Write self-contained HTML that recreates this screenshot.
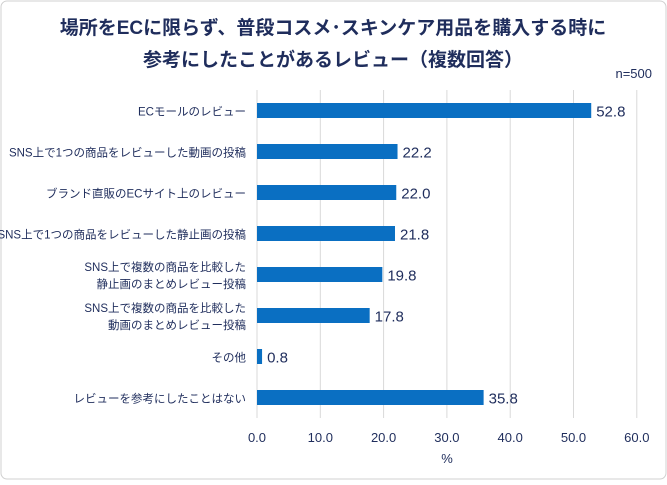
<!DOCTYPE html>
<html><head><meta charset="utf-8"><style>
body{margin:0;background:#fff;}
#w{position:relative;width:667px;height:480px;font-family:"Liberation Sans","Noto Sans CJK JP",sans-serif;}
</style></head><body>
<div id="w">
<svg width="667" height="480" id="svg">
<rect x="1" y="1" width="665" height="478" rx="6" fill="#fff" stroke="#d0d0d0"/>
<text x="333" y="34" text-anchor="middle" font-size="19" font-weight="bold" fill="#1f2d5c">場所をECに限らず、普段コスメ･スキンケア用品を購入する時に</text>
<text x="333" y="66" text-anchor="middle" font-size="19" font-weight="bold" fill="#1f2d5c">参考にしたことがあるレビュー（複数回答）</text>
<text x="652" y="78" text-anchor="end" font-size="13" fill="#1f2d5c">n=500</text>
<g id="grid"></g><g id="bars"></g><g id="labels"></g>
<text x="447" y="463" text-anchor="middle" font-size="13" fill="#1f2d5c">%</text>
</svg></div>
<script>
const categories=[["ECモールのレビュー"],["SNS上で1つの商品をレビューした動画の投稿"],["ブランド直販のECサイト上のレビュー"],["SNS上で1つの商品をレビューした静止画の投稿"],["SNS上で複数の商品を比較した","静止画のまとめレビュー投稿"],["SNS上で複数の商品を比較した","動画のまとめレビュー投稿"],["その他"],["レビューを参考にしたことはない"]];
const values=[52.8,22.2,22.0,21.8,19.8,17.8,0.8,35.8];
const ticks=[0,10,20,30,40,50,60];
const ns="http://www.w3.org/2000/svg";
const x0=257,sc=6.33,plotTop=90,plotBottom=418,bh=15;
const xs=v=>x0+v*sc;
const step=(plotBottom-plotTop)/categories.length;
const ys=i=>plotTop+step*(i+0.5);
function mk(t,a,p){const e=document.createElementNS(ns,t);for(const k in a)e.setAttribute(k,a[k]);p.appendChild(e);return e;}
const g=document.getElementById('grid'),b=document.getElementById('bars'),l=document.getElementById('labels');
ticks.forEach(t=>{
 const ln=mk('line',{x1:xs(t),x2:xs(t),y1:plotTop,y2:plotBottom,stroke:"#d9d9d9","stroke-width":1},g);
 
 
 const tx=mk('text',{x:xs(t),y:442,"text-anchor":"middle","font-size":13,fill:"#1f2d5c"},g);
 tx.textContent=t.toFixed(1);
 
 
});
values.forEach((v,i)=>{
 const r=mk('rect',{x:x0,y:ys(i)-bh/2,width:v*sc,height:bh,fill:"#0a6fc2"},b);
 
 
 const vt=mk('text',{x:xs(v)+5,y:ys(i)+6,"font-size":15,fill:"#1f2d5c"},l);
 vt.textContent=v.toFixed(1);
 
 
 const c=categories[i];
 c.forEach((s,j)=>{
  const ct=mk('text',{x:246,y:ys(i)+5+(j-(c.length-1)/2)*17,"text-anchor":"end","font-size":11.5,fill:"#1f2d5c"},l);
  ct.textContent=s;
  
  
 });
});
</script></body></html>
